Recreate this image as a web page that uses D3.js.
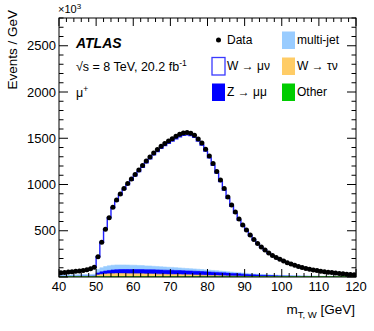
<!DOCTYPE html>
<html><head><meta charset="utf-8">
<script src="https://cdn.jsdelivr.net/npm/d3@7"></script>
<style>
body{margin:0;background:#fff}
svg{display:block}
text{font-family:"Liberation Sans",Arial,Helvetica,sans-serif;fill:#000}
</style>
</head><body>
<svg id="c" width="374" height="331"></svg>
<script>
// Bin edges (GeV), 1 GeV bins from 40 to 120
const binEdges = [40,41,42,43,44,45,46,47,48,49,50,51,52,53,54,55,56,57,58,59,60,61,62,63,64,65,66,67,68,69,70,71,72,73,74,75,76,77,78,79,80,81,82,83,84,85,86,87,88,89,90,91,92,93,94,95,96,97,98,99,100,101,102,103,104,105,106,107,108,109,110,111,112,113,114,115,116,117,118,119,120];

// Events / GeV (x10^3)
const dataValues = [46,50,53,56,61,65,71,79,89,105, 219,375,516,641,754,832,897,957,1011,1059, 1108,1157,1205,1254,1297,1341,1378,1413,1443,1470, 1495,1521,1543,1557,1562,1554,1532,1492,1449,1381, 1308,1227,1141,1049,957,865,778,703,627,562, 508,454,405,362,324,292,259,232,211,191, 173,155,141,126,114,103,93,84,76,69, 63,57,52,48,43,39,35,31,28,25];

const wmunu = [25,29,31,34,38,41,45,53,62,75, 137,275,403,520,622,695,758,817,870,918, 966,1016,1064,1115,1158,1204,1243,1281,1312,1341, 1366,1394,1419,1436,1445,1440,1422,1386,1346,1284, 1214,1137,1055,968,880,793,712,641,571,510, 462,413,367,327,293,264,233,209,190,172, 156,139,127,113,101,92,82,74,66,60, 55,49,44,40,35,33,29,25,22,19];

const multijet = [14,14,15,15,16,16,17,17,18,19, 38,44,48,50,51,51,50,49,48,47, 46,44,43,41,40,38,37,35,34,32, 31,30,28,27,26,25,24,23,22,21, 20,19,18,17,16,15,14,13,12,12, 11,10,10,9,9,8,8,7,7,6, 6,6,5,5,5,4,4,4,4,3, 3,3,3,3,3,2,2,2,2,2];

const zmumu = [3,3,3,3,3,3,4,4,4,5, 22,28,33,37,40,42,43,44,45,45, 46,46,46,46,46,46,46,45,45,45, 45,44,44,43,42,42,41,40,39,38, 37,36,35,33,32,30,28,27,25,23, 22,20,18,17,15,14,12,11,10,9, 8,7,6,5,5,4,4,3,3,3, 2,2,2,2,2,1,1,1,1,1];

const wtaunu = [2,2,2,2,2,3,3,3,3,4, 18,24,28,30,32,33,33,33,32,32, 31,31,30,29,29,28,27,26,25,24, 24,23,22,21,20,19,18,17,16,14, 13,12,11,10,9,8,7,6,5,4, 4,3,3,3,2,2,2,2,1,1, 1,1,1,1,1,1,1,1,1,1, 1,1,1,1,1,1,1,1,1,1];

const other = [2,2,2,2,2,2,2,2,2,2, 4,4,4,4,4,4,4,4,4,4, 4,4,4,4,4,4,4,4,4,4, 4,4,4,4,4,4,4,4,4,4, 4,4,4,4,4,4,4,4,4,4, 2,2,2,2,2,2,2,2,2,2, 2,2,2,2,2,2,2,2,2,2, 2,2,2,2,2,2,2,2,2,2];

const xTicks = [40,50,60,70,80,90,100,110,120];
const yTicks = [500,1000,1500,2000,2500];

const layerKeys = ["other","wtaunu","zmumu","multijet","wmunu"];
const layerColors = {other:"#00cc00", wtaunu:"#ffcc66", zmumu:"#0000ff", multijet:"#99ccff", wmunu:"#ffffff"};

const legendCol1 = [{label:"Data", type:"data"},{label:"W \u2192 \u03bc\u03bd", type:"wmunu"},{label:"Z \u2192 \u03bc\u03bc", type:"zmumu"}];
const legendCol2 = [{label:"multi-jet", type:"multijet"},{label:"W \u2192 \u03c4\u03bd", type:"wtaunu"},{label:"Other", type:"other"}];

// ---------------- drawing ----------------
const svg = d3.select("#c");
const L = 59, R = 356, T = 18, B = 277;
const x = d3.scaleLinear().domain([40,120]).range([L,R]);
const y = d3.scaleLinear().domain([0,2800]).range([B,T]);

const rows = binEdges.slice(0,-1).map((lo,i)=>({lo, hi:binEdges[i+1],
  other:other[i], wtaunu:wtaunu[i], zmumu:zmumu[i], multijet:multijet[i], wmunu:wmunu[i], data:dataValues[i]}));
const stack = d3.stack().keys(layerKeys)(rows);

svg.append("defs").append("clipPath").attr("id","clip")
  .append("rect").attr("x",L).attr("y",T).attr("width",R-L).attr("height",B-T);
const g = svg.append("g").attr("clip-path","url(#clip)");

function stepPoints(layer){
  const pts=[];
  layer.forEach(d=>{ pts.push({x:d.data.lo,y0:d[0],y1:d[1]}); pts.push({x:d.data.hi,y0:d[0],y1:d[1]}); });
  return pts;
}
const area = d3.area().x(d=>x(d.x)).y0(d=>y(d.y0)).y1(d=>y(d.y1));
// draw cumulative histograms top-down like ROOT
const total = stack[stack.length-1];
for(let k=stack.length-1;k>=0;k--){
  const key = layerKeys[k];
  const pts = stepPoints(stack[k]).map(p=>({x:p.x,y0:0,y1:p.y1}));
  g.append("path").datum(pts).attr("d",area)
    .attr("fill",layerColors[key]).attr("stroke", key==="wmunu"?"none":layerColors[key]).attr("stroke-width",0.6);
}
// total MC outline
const line = d3.line().x(d=>x(d.x)).y(d=>y(d.y1));
g.append("path").datum(stepPoints(total)).attr("d",line)
  .attr("fill","none").attr("stroke","#1f1fff").attr("stroke-width",1.4);

// data points
g.selectAll("circle.d").data(rows).enter().append("circle")
  .attr("cx",d=>x((d.lo+d.hi)/2)).attr("cy",d=>y(d.data)).attr("r",2.5).attr("fill","#000");

// frame
svg.append("rect").attr("x",L).attr("y",T).attr("width",R-L).attr("height",B-T)
  .attr("fill","none").attr("stroke","#000").attr("stroke-width",1);

// ticks
const tk = svg.append("g").attr("stroke","#000").attr("stroke-width",1);
const xMinor = d3.range(40,121,2);
xMinor.forEach(v=>{
  const major = xTicks.includes(v); const len = major?8:4;
  tk.append("line").attr("x1",x(v)).attr("x2",x(v)).attr("y1",B).attr("y2",B-len);
  tk.append("line").attr("x1",x(v)).attr("x2",x(v)).attr("y1",T).attr("y2",T+len);
});
const yMinor = d3.range(0,2801,100);
yMinor.forEach(v=>{
  const major = v%500===0; const len = major?9:4.5;
  tk.append("line").attr("y1",y(v)).attr("y2",y(v)).attr("x1",L).attr("x2",L+len);
  tk.append("line").attr("y1",y(v)).attr("y2",y(v)).attr("x1",R).attr("x2",R-len);
});

// tick labels
svg.selectAll("text.xt").data(xTicks).enter().append("text")
  .attr("x",d=>x(d)).attr("y",291).attr("text-anchor","middle").attr("font-size",13).text(d=>d);
svg.selectAll("text.yt").data(yTicks).enter().append("text")
  .attr("x",56).attr("y",d=>y(d)+4.5).attr("text-anchor","end").attr("font-size",13).text(d=>d);

// x10^3
const ex = svg.append("text").attr("x",58).attr("y",13).attr("font-size",11);
ex.append("tspan").text("\u00d710");
ex.append("tspan").attr("dy",-4).attr("font-size",8).text("3");

// axis titles
svg.append("text").attr("transform","translate(17,10) rotate(-90)").attr("text-anchor","end")
  .attr("font-size",13.5).text("Events / GeV");
const xt = svg.append("text").attr("x",355).attr("y",314).attr("text-anchor","end").attr("font-size",13.5);
xt.append("tspan").text("m");
xt.append("tspan").attr("dy",4).attr("font-size",9.5).text("T, W");
xt.append("tspan").attr("dy",-4).text(" [GeV]");

// ATLAS labels
svg.append("text").attr("x",76).attr("y",48).attr("font-size",14).attr("font-weight","bold").attr("font-style","italic").text("ATLAS");
const sq = svg.append("text").attr("x",76).attr("y",71).attr("font-size",12.5);
sq.append("tspan").text("\u221as = 8 TeV, 20.2 fb");
sq.append("tspan").attr("dy",-5).attr("font-size",8.5).text("-1");
const mu = svg.append("text").attr("x",76).attr("y",97).attr("font-size",12.5);
mu.append("tspan").text("\u03bc");
mu.append("tspan").attr("dy",-5).attr("font-size",8.5).text("+");

// legend
function drawLegend(items, bx, tx){
  items.forEach((it,i)=>{
    const cy = 40 + i*26;
    if(it.type==="data"){
      svg.append("circle").attr("cx",bx+6.5).attr("cy",cy).attr("r",2.5).attr("fill","#000");
    } else {
      svg.append("rect").attr("x",bx).attr("y",cy-8.5).attr("width",13).attr("height",17.5)
        .attr("fill",layerColors[it.type])
        .attr("stroke", it.type==="wmunu" ? "#3a3aff" : "none").attr("stroke-width",1.3);
    }
    svg.append("text").attr("x",tx).attr("y",cy+4.3).attr("font-size",12).text(it.label);
  });
}
drawLegend(legendCol1, 212, 227);
drawLegend(legendCol2, 282, 297);
</script>
</body></html>
